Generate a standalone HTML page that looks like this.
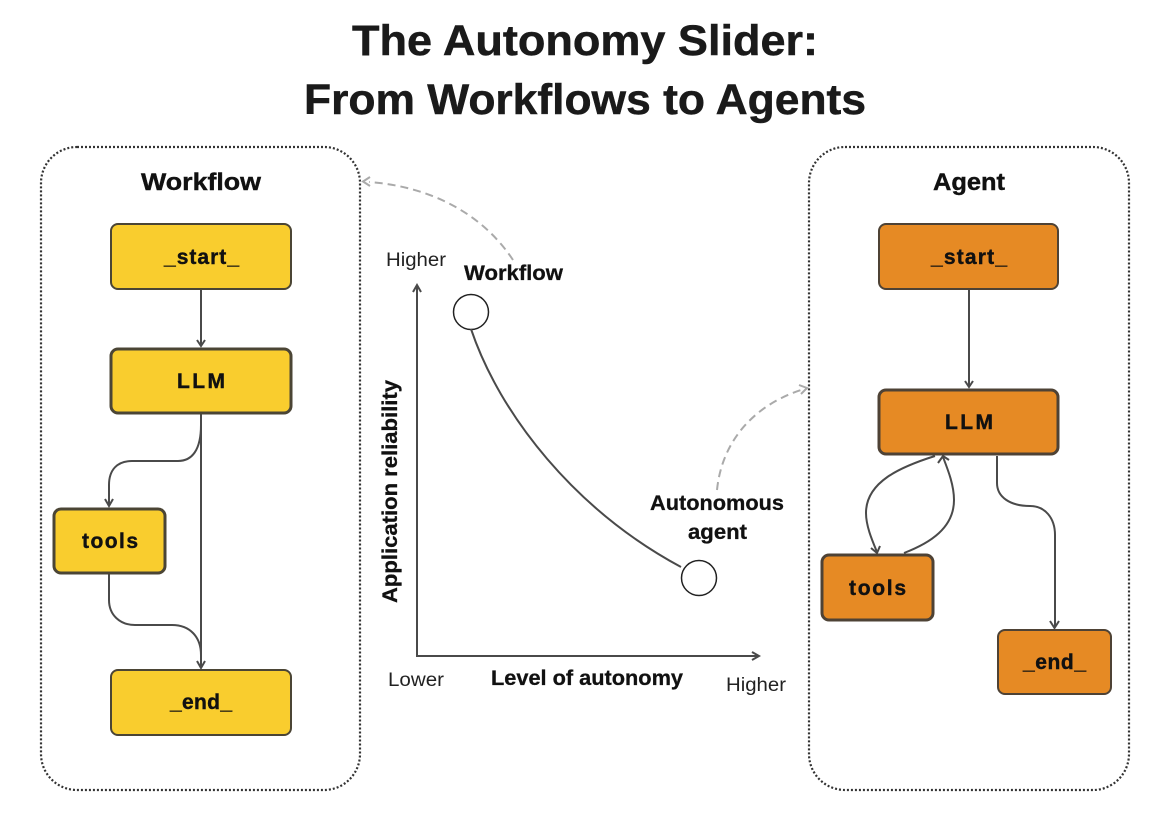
<!DOCTYPE html>
<html><head><meta charset="utf-8"><style>
html,body{margin:0;padding:0;background:#fff;width:1170px;height:816px;overflow:hidden}
svg{display:block}
text{font-family:"Liberation Sans",sans-serif;fill:#111}
.t{font-weight:700;font-size:43px;fill:#1a1a1a;stroke:#1a1a1a;stroke-width:.5}
.h{font-weight:700;font-size:24px;stroke:#111;stroke-width:.4}
.n{font-weight:700;font-size:21px;stroke:#111;stroke-width:.4}
.p{font-weight:700;font-size:21px;stroke:#111;stroke-width:.3}
.l{font-size:19px;fill:#222}
.c{fill:none;stroke:#4a4a4a;stroke-width:2}
.d{fill:none;stroke:#aaa;stroke-width:2;stroke-dasharray:8 5}
.pn{fill:none;stroke:#333;stroke-width:2.2;stroke-dasharray:2 2}
.y{fill:#F9CD2E;stroke:#4b4535;stroke-width:2}
.o{fill:#E68A24;stroke:#4e4235;stroke-width:2}
.ah{fill:none;stroke:#4a4a4a;stroke-width:2}
.ag{fill:none;stroke:#aaa;stroke-width:2}
</style></head><body>
<svg width="1170" height="816" viewBox="0 0 1170 816" xmlns="http://www.w3.org/2000/svg">
<rect width="1170" height="816" fill="#fff"/>

<text class="t" x="352" y="55" textLength="466" lengthAdjust="spacingAndGlyphs">The Autonomy Slider:</text>
<text class="t" x="304" y="114" textLength="562" lengthAdjust="spacingAndGlyphs">From Workflows to Agents</text>

<rect class="pn" x="41" y="147" width="319" height="643" rx="36"/>
<rect class="pn" x="809" y="147" width="320" height="643" rx="36"/>

<text class="h" x="141" y="190" textLength="120" lengthAdjust="spacingAndGlyphs">Workflow</text>
<text class="h" x="933" y="190" textLength="72" lengthAdjust="spacingAndGlyphs">Agent</text>

<!-- workflow connectors -->
<path class="c" d="M201 290V346"/>
<path class="ah" d="M197 340L201 346L205 340"/>
<path class="c" d="M201 414V667"/>
<path class="c" d="M201 425C201 450 192 461 178 461H132C117 461 109 470 109 485V505"/>
<path class="ah" d="M105 499L109 506L113 499"/>
<path class="c" d="M109 574V600C109 615 120 625 135 625H172C190 625 201 637 201 655V667"/>
<path class="ah" d="M197 661L201 668L205 661"/>

<!-- workflow nodes -->
<rect class="y" x="111" y="224" width="180" height="65" rx="7"/>
<rect class="y" x="111" y="349" width="180" height="64" rx="7" style="stroke-width:3"/>
<rect class="y" x="54" y="509" width="111" height="64" rx="7" style="stroke-width:3"/>
<rect class="y" x="111" y="670" width="180" height="65" rx="7"/>
<text class="n" x="164" y="264" textLength="75" lengthAdjust="spacing">_start_</text>
<text class="n" x="177" y="388" textLength="48" lengthAdjust="spacing">LLM</text>
<text class="n" x="82" y="548" textLength="56" lengthAdjust="spacing">tools</text>
<text class="n" x="170" y="709" textLength="62" lengthAdjust="spacing">_end_</text>

<!-- agent connectors -->
<path class="c" d="M969 290V387"/>
<path class="ah" d="M965 381L969 387L973 381"/>
<path class="c" d="M997 456V483C997 497 1010 506 1030 506C1045 506 1055 518 1055 535V627"/>
<path class="ah" d="M1050 621L1054.500 628L1059 621"/>
<path class="c" d="M935 456C900 467 866 482 866 513C866 526 872 540 877 552"/>
<path class="ah" d="M871 548L877 553L880 546"/>
<path class="c" d="M904 553C930 543 954 528 954 500C954 485 948 470 943 457"/>
<path class="ah" d="M938 463L943 456L949 460"/>

<!-- agent nodes -->
<rect class="o" x="879" y="224" width="179" height="65" rx="7"/>
<rect class="o" x="879" y="390" width="179" height="64" rx="7" style="stroke-width:3"/>
<rect class="o" x="822" y="555" width="111" height="65" rx="7" style="stroke-width:3"/>
<rect class="o" x="998" y="630" width="113" height="64" rx="7"/>
<text class="n" x="931" y="264" textLength="76" lengthAdjust="spacing">_start_</text>
<text class="n" x="945" y="429" textLength="48" lengthAdjust="spacing">LLM</text>
<text class="n" x="849" y="595" textLength="57" lengthAdjust="spacing">tools</text>
<text class="n" x="1023" y="669" textLength="63" lengthAdjust="spacing">_end_</text>

<!-- plot -->
<path class="c" d="M417 656V285"/>
<path class="ah" d="M413 292L417 285L421 292"/>
<path class="c" d="M416 656H759"/>
<path class="ah" d="M752 652L759 656L752 660"/>
<circle cx="471" cy="312" r="17.500" fill="#fff" stroke="#222" stroke-width="1.500"/>
<circle cx="699" cy="578" r="17.500" fill="#fff" stroke="#222" stroke-width="1.500"/>
<path class="c" d="M471 329C500 415 575 510 681 567"/>

<text class="l" x="386" y="266" textLength="60" lengthAdjust="spacingAndGlyphs">Higher</text>
<text class="l" x="388" y="686" textLength="56" lengthAdjust="spacingAndGlyphs">Lower</text>
<text class="l" x="726" y="691" textLength="60" lengthAdjust="spacingAndGlyphs">Higher</text>
<text class="p" x="464" y="280" textLength="99" lengthAdjust="spacingAndGlyphs">Workflow</text>
<text class="p" x="650" y="510" textLength="134" lengthAdjust="spacingAndGlyphs">Autonomous</text>
<text class="p" x="688" y="539" textLength="59" lengthAdjust="spacingAndGlyphs">agent</text>
<text class="p" x="491" y="685" textLength="192" lengthAdjust="spacingAndGlyphs">Level of autonomy</text>
<text class="p" transform="translate(397 603) rotate(-90)" x="0" y="0" textLength="223" lengthAdjust="spacingAndGlyphs">Application reliability</text>

<!-- dashed -->
<path class="d" d="M513 260C480 210 425 186 369 182"/>
<path class="ag" d="M370 177L363 181.500L370 186"/>
<path class="d" d="M717 490C722 440 755 405 801 390"/>
<path class="ag" d="M799 385L807 388L801 394"/>
</svg>
</body></html>
